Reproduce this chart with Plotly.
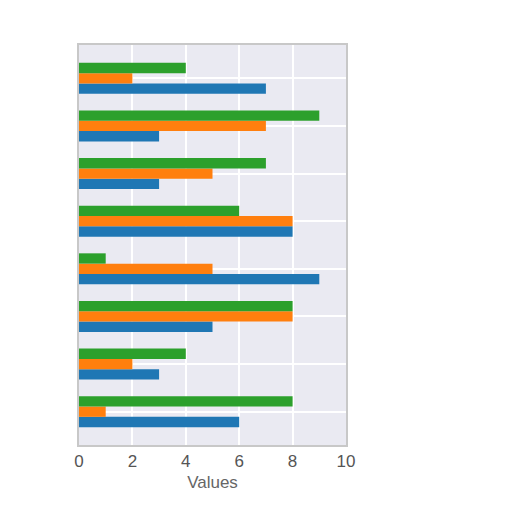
import plotly.graph_objects as go

# Categories listed bottom to top (plotly puts the first category at the bottom)
categories = ["A", "B", "C", "D", "E", "F", "G", "H"]
series_1 = [6, 3, 5, 9, 8, 3, 3, 7]  # blue
series_2 = [1, 2, 8, 5, 8, 5, 7, 2]  # orange
series_3 = [8, 4, 8, 1, 6, 7, 9, 4]  # green
x_ticks = [0, 2, 4, 6, 8, 10]

colors = ["#1f77b4", "#ff7f0e", "#2ca02c"]
names = ["Series 1", "Series 2", "Series 3"]

fig = go.Figure()
for vals, col, name in zip([series_1, series_2, series_3], colors, names):
    fig.add_trace(
        go.Bar(
            x=vals,
            y=categories,
            orientation="h",
            name=name,
            marker=dict(color=col, line=dict(width=0)),
        )
    )

fig.update_layout(
    width=512,
    height=512,
    barmode="group",
    bargap=0.35,
    bargroupgap=0,
    showlegend=False,
    paper_bgcolor="white",
    plot_bgcolor="#eaeaf2",
    margin=dict(l=71, r=174, t=37, b=75),
    font=dict(family="Liberation Sans, Arial, sans-serif", size=17, color="#555555"),
    xaxis=dict(
        range=[0, 10],
        tickvals=x_ticks,
        gridcolor="white",
        gridwidth=1.5,
        zeroline=False,
        showline=True,
        linecolor="#c8c8c8",
        linewidth=2,
        mirror=True,
        ticks="",
        title=dict(text="Values", standoff=6, font=dict(size=17, color="#666666")),
        tickfont=dict(size=17, color="#555555"),
    ),
    yaxis=dict(
        range=[-0.7, 7.7],
        showticklabels=False,
        gridcolor="white",
        gridwidth=1.5,
        showline=True,
        linecolor="#c8c8c8",
        linewidth=2,
        mirror=True,
        ticks="",
    ),
)

fig.write_html("out.html")
